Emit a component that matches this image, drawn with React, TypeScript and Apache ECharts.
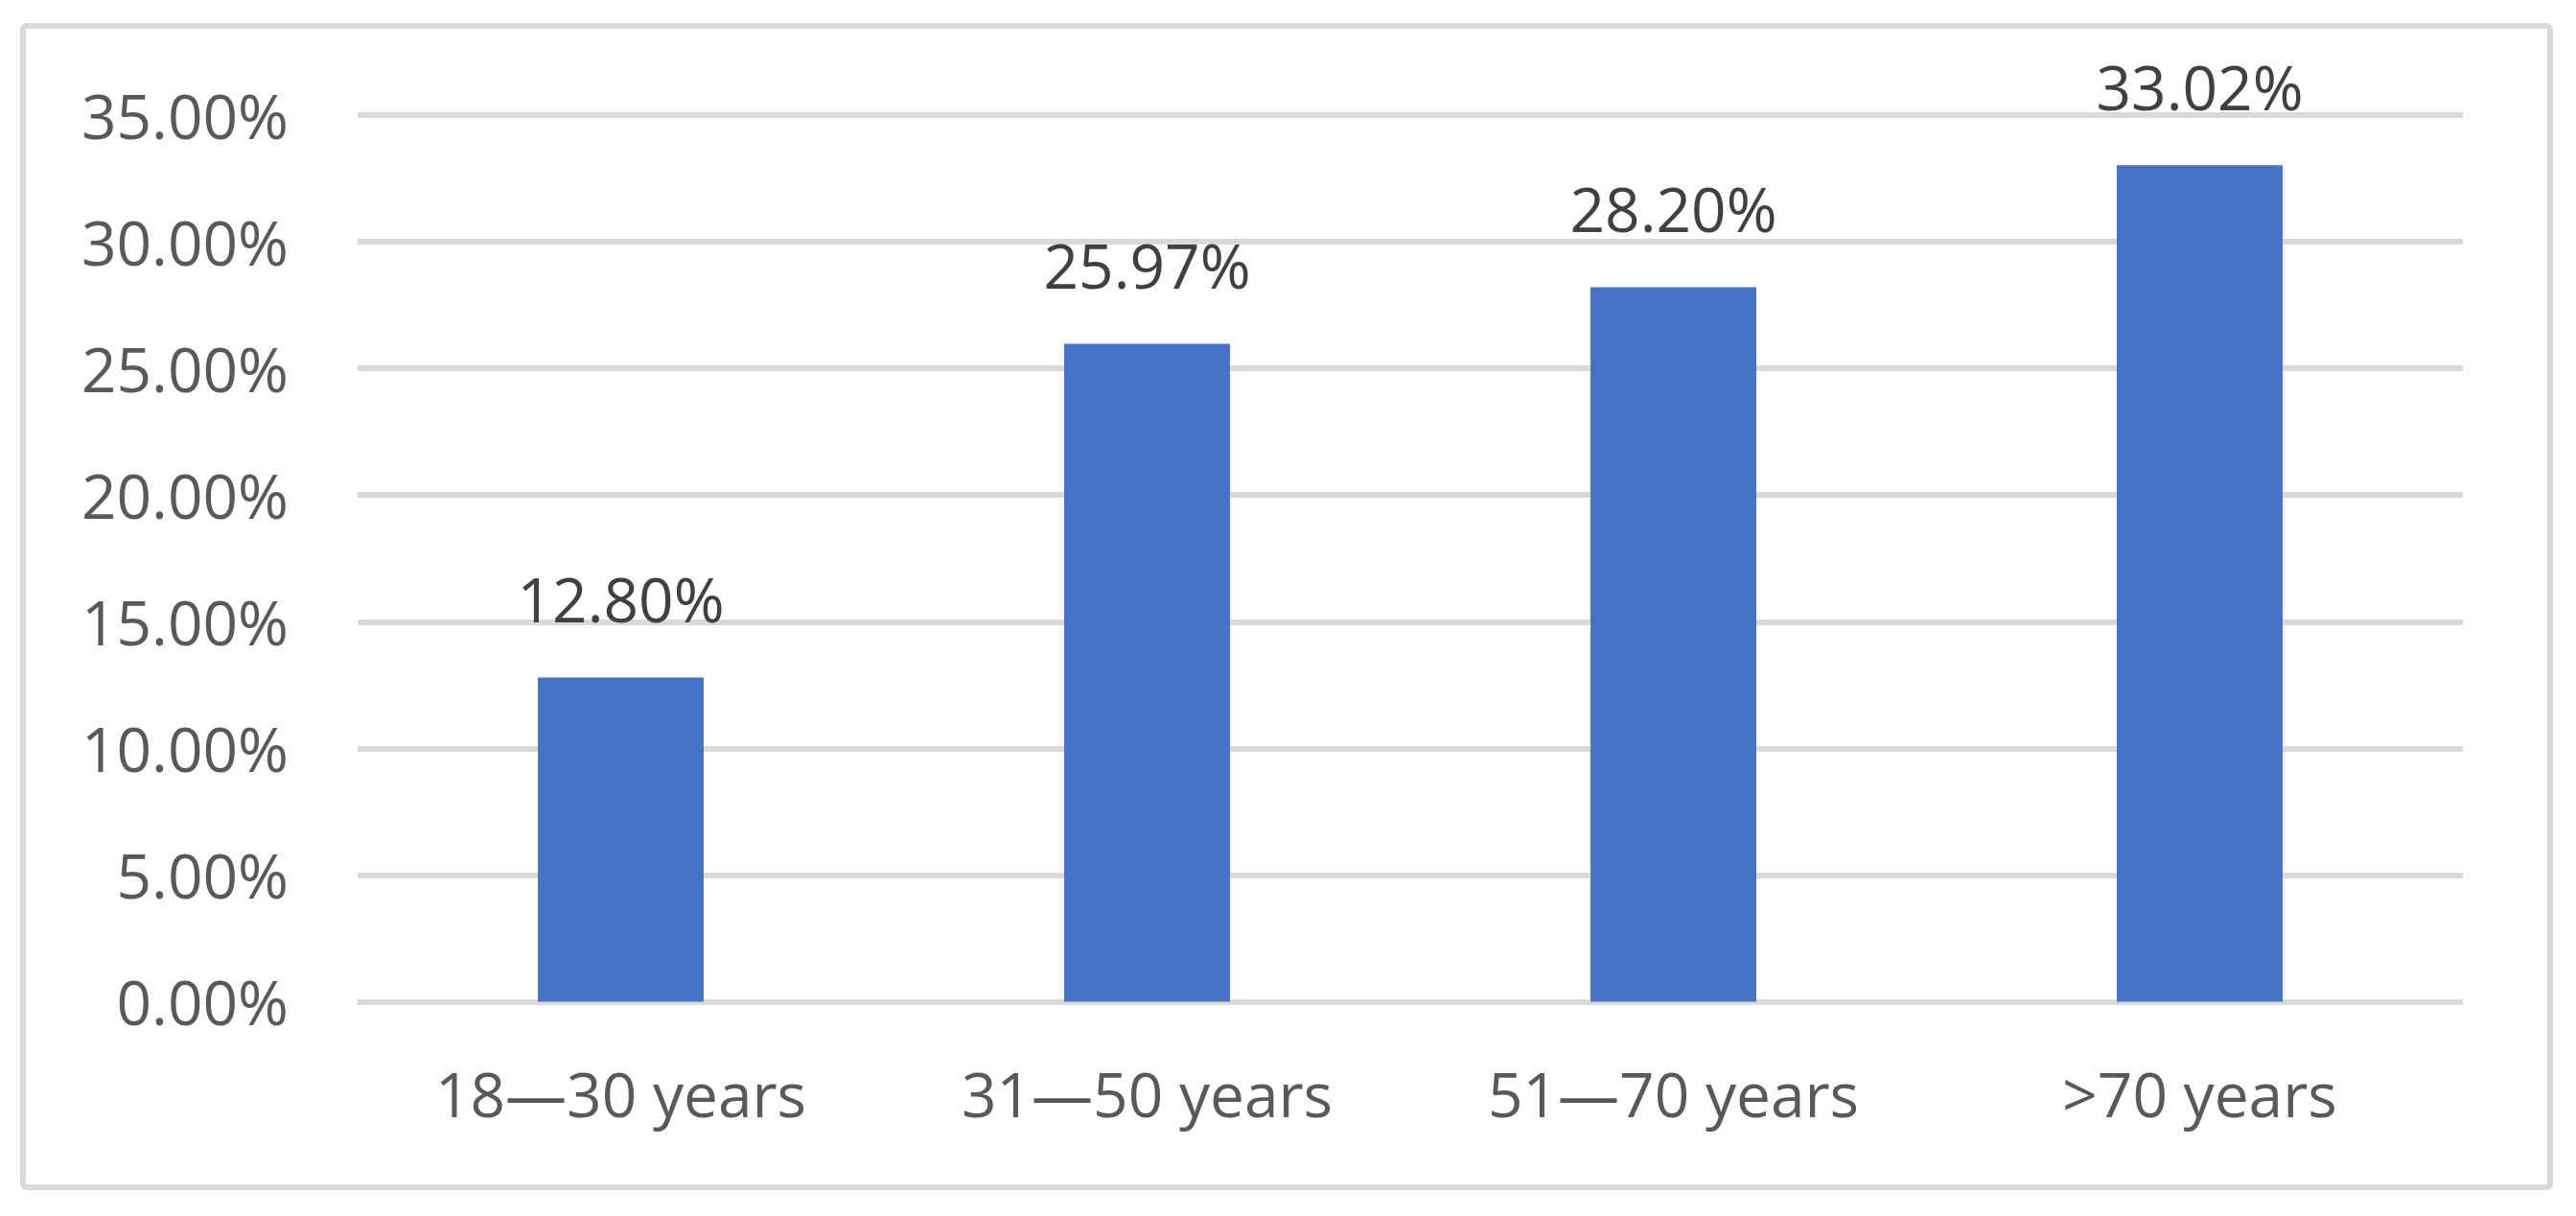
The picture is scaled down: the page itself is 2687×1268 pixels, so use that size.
import React, { useEffect, useRef } from "react";
import * as echarts from "echarts";

const categories = ["18—30 years", "31—50 years", "51—70 years", ">70 years"];
const values = [12.8, 25.97, 28.2, 33.02];
const yTicks = { min: 0, max: 35, interval: 5 };

const FONT = "'Open Sans', 'Noto Sans', sans-serif";

export default function App() {
  const ref = useRef<HTMLDivElement>(null);
  useEffect(() => {
    document.body.style.margin = "0";
    const chart = echarts.init(ref.current!, null, { renderer: "svg" });
    chart.setOption({
      animation: false,
      backgroundColor: "#ffffff",
      graphic: [
        {
          type: "rect",
          shape: { x: 24, y: 27, width: 2636, height: 1211, r: 4 },
          style: { fill: "none", stroke: "#d9d9d9", lineWidth: 6 },
          silent: true,
        },
      ],
      grid: { left: 373, right: 118, top: 120, bottom: 223.5, containLabel: false },
      xAxis: {
        type: "category",
        data: categories,
        axisLine: { show: false },
        axisTick: { show: false },
        axisLabel: {
          color: "#595959",
          fontFamily: FONT,
          fontSize: 64,
          margin: 64,
        },
      },
      yAxis: {
        type: "value",
        min: yTicks.min,
        max: yTicks.max,
        interval: yTicks.interval,
        axisLine: { show: false },
        axisTick: { show: false },
        splitLine: { lineStyle: { color: "#d9d9d9", width: 6 } },
        axisLabel: {
          color: "#595959",
          fontFamily: FONT,
          fontSize: 64,
          margin: 72,
          formatter: (v: number) => v.toFixed(2) + "%",
        },
      },
      series: [
        {
          type: "bar",
          data: values,
          barWidth: "31.5%",
          itemStyle: { color: "#4472C4" },
          label: {
            show: true,
            position: "top",
            distance: 50,
            color: "#404040",
            fontFamily: FONT,
            fontSize: 64,
            formatter: (p: any) => p.value.toFixed(2) + "%",
          },
        },
      ],
    });
    return () => chart.dispose();
  }, []);
  return <div ref={ref} style={{ width: 2687, height: 1268 }} />;
}
